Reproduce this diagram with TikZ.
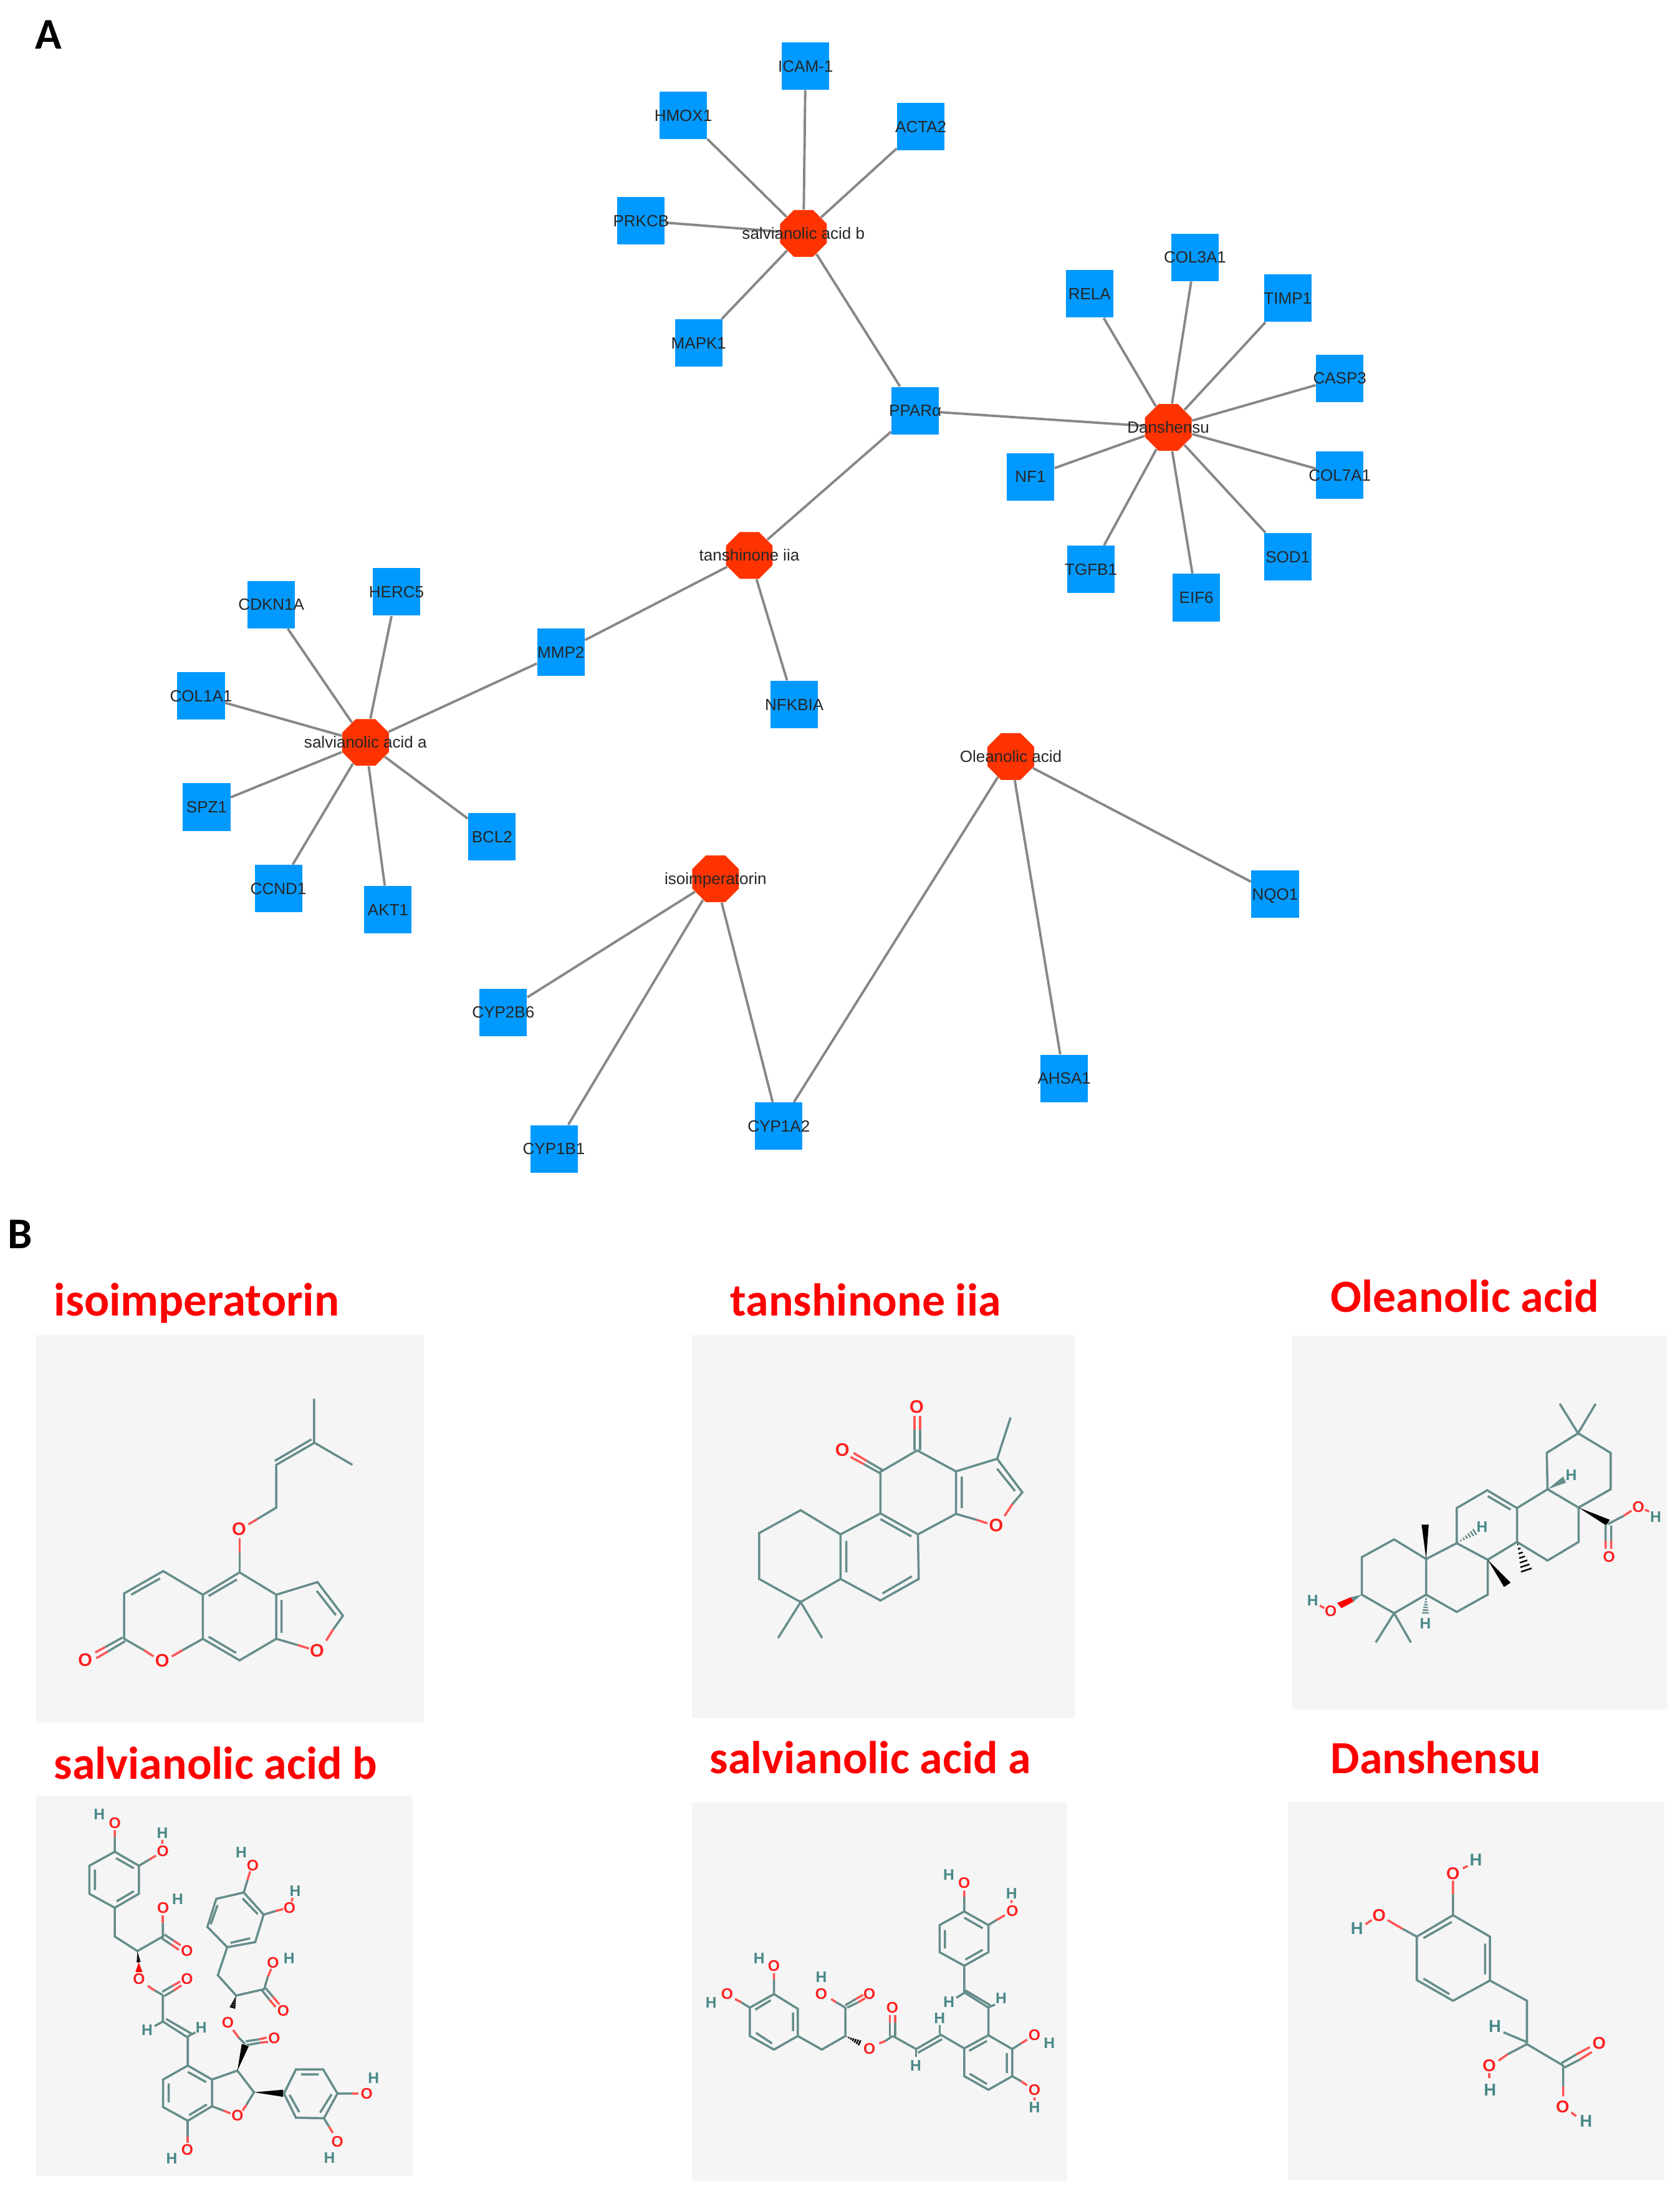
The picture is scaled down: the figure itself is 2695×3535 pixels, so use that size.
\documentclass[tikz,border=0pt]{standalone}
\usepackage{fontspec}
\usetikzlibrary{shapes.geometric,backgrounds}
\setmainfont{Liberation Sans}
\newfontfamily\titlefont{Carlito}
\newfontfamily\molfont{Liberation Sans}
\definecolor{gene}{HTML}{0099FF}
\definecolor{drug}{HTML}{FF3300}
\definecolor{edgegray}{HTML}{878787}
\definecolor{panel}{HTML}{F5F5F5}
\definecolor{bondc}{HTML}{658D8B}
\definecolor{hatom}{HTML}{4A8888}
\definecolor{oxy}{HTML}{FF2020}
\definecolor{oxyb}{HTML}{FF5555}
\newcommand\netfont{\fontsize{7.4}{8}\selectfont}
\newcommand\molfs{\fontsize{8}{9}\selectfont}
\newcounter{atm}
\newcommand\OA[1]{\stepcounter{atm}\node[oatom] (atom\theatm) at (#1) {O};}
\newcommand\HA[1]{\stepcounter{atm}\node[hatom] (atom\theatm) at (#1) {H};}
\newcommand\hashw[6]{\foreach \t in {0.08,0.22,0.36,0.5,0.64,0.78,0.92}{%
  \pgfmathsetmacro\mx{#2+\t*(#4-#2)}\pgfmathsetmacro\my{#3+\t*(#5-#3)}%
  \pgfmathsetmacro\nx{-(#5-#3)/veclen(#4-#2,#5-#3)*#6*\t}%
  \pgfmathsetmacro\ny{(#4-#2)/veclen(#4-#2,#5-#3)*#6*\t}%
  \draw[#1,line width=.7pt] (\mx+\nx,\my+\ny)--(\mx-\nx,\my-\ny);}}
\tikzset{
  genebox/.style={rectangle,fill=gene,minimum size=.76cm,inner sep=0pt,text=black!85,font=\netfont,text height=5.2pt,text depth=0pt},
  drugoct/.style={regular polygon,regular polygon sides=8,fill=drug,minimum size=.81cm,inner sep=0pt,text=black!85,font=\netfont,text height=5.2pt,text depth=0pt},
  link/.style={draw=edgegray,line width=1.1pt},
  bond/.style={draw=bondc,line width=1pt},
  rbond/.style={draw=oxyb,line width=1pt},
  oatom/.style={text=oxy,font=\molfont\bfseries\molfs,inner sep=0pt},
  hatom/.style={text=hatom,font=\molfont\bfseries\molfs,inner sep=0pt},
  paneltitle/.style={text=red,font=\titlefont\bfseries\fontsize{21}{25}\selectfont,anchor=base west,inner sep=0pt},
  letter/.style={text=black,font=\titlefont\bfseries\fontsize{20}{24}\selectfont,anchor=base west,inner sep=0pt},
  panelbox/.style={fill=panel},
}
\newcommand\gn[3]{\node[genebox] (#1) at (#2) {\makebox[0pt]{#3}};}
\newcommand\dr[3]{\node[drugoct] (#1) at (#2) {\makebox[0pt]{#3}};}
\begin{document}
\begin{tikzpicture}[x=0.01cm,y=-0.01cm]
\useasboundingbox (0,0) rectangle (2695,3535);
\begin{scope}[on background layer]
\fill[white] (0,0) rectangle (2695,3535);
\end{scope}
\node[letter] (letterA) at (56,78) {A};
\node[letter] (letterB) at (12,2002) {B};
% ---------- network
\begin{scope}[scale=2.2552]
\dr{salb}{571.5,166}{salvianolic acid b}
\dr{dans}{831,304}{Danshensu}
\dr{tan}{533,395}{tanshinone iia}
\dr{sala}{260,528}{salvianolic acid a}
\dr{ole}{719,538}{Oleanolic acid}
\dr{iso}{509,625}{isoimperatorin}
\gn{icam}{573,47}{ICAM-1}
\gn{hmox}{486,82}{HMOX1}
\gn{acta}{655,90}{ACTA2}
\gn{prkcb}{456,157}{PRKCB}
\gn{mapk}{497,244}{MAPK1}
\gn{ppar}{651,292}{PPARα}
\gn{col3}{850,183}{COL3A1}
\gn{rela}{775,209}{RELA}
\gn{timp}{916,212}{TIMP1}
\gn{casp}{953,269}{CASP3}
\gn{col7}{953,338}{COL7A1}
\gn{nf}{733,339}{NF1}
\gn{sod}{916,396}{SOD1}
\gn{tgfb}{776,405}{TGFB1}
\gn{eif}{851,425}{EIF6}
\gn{mmp}{399,464}{MMP2}
\gn{nfk}{565,501}{NFKBIA}
\gn{herc}{282,421}{HERC5}
\gn{cdkn}{193,430}{CDKN1A}
\gn{col1}{143,495}{COL1A1}
\gn{spz}{147,574}{SPZ1}
\gn{bcl}{350,595}{BCL2}
\gn{ccnd}{198,632}{CCND1}
\gn{akt}{276,647}{AKT1}
\gn{nqo}{907,636}{NQO1}
\gn{ahsa}{757,767}{AHSA1}
\gn{cyp2b}{358,720}{CYP2B6}
\gn{cyp1a}{554,801}{CYP1A2}
\gn{cyp1b}{394,817}{CYP1B1}
\end{scope}
\begin{scope}[on background layer]
\foreach \a/\b in {salb/icam,salb/hmox,salb/acta,salb/prkcb,salb/mapk,salb/ppar,
  dans/ppar,dans/col3,dans/rela,dans/timp,dans/casp,dans/col7,dans/nf,dans/sod,dans/tgfb,dans/eif,
  tan/ppar,tan/mmp,tan/nfk,
  sala/mmp,sala/herc,sala/cdkn,sala/col1,sala/spz,sala/bcl,sala/ccnd,sala/akt,
  ole/nqo,ole/ahsa,ole/cyp1a,
  iso/cyp2b,iso/cyp1a,iso/cyp1b}
  {\draw[link] (\a) -- (\b);}
\end{scope}
% ---------- panels
\fill[panelbox] (58,2141) rectangle (680,2764);
\fill[panelbox] (1110,2141) rectangle (1724,2756);
\fill[panelbox] (2073,2142) rectangle (2675,2742);
\fill[panelbox] (58,2880) rectangle (662,3490);
\fill[panelbox] (1110,2891) rectangle (1712,3498);
\fill[panelbox] (2066,2890) rectangle (2670,3497);
\node[paneltitle,font=\titlefont\bfseries\fontsize{21.3}{25}\selectfont] (t1) at (86,2110) {isoimperatorin};
\node[paneltitle] (t2) at (1171,2110) {tanshinone iia};
\node[paneltitle] (t3) at (2134,2104) {Oleanolic acid};
\node[paneltitle] (t4) at (86,2853) {salvianolic acid b};
\node[paneltitle] (t5) at (1138,2844) {salvianolic acid a};
\node[paneltitle] (t6) at (2134,2844) {Danshensu};
% ---------- isoimperatorin
\begin{scope}[shift={(40,2120)},scale=.4209]
\renewcommand\molfs{\fontsize{8.3}{9}\selectfont}
\draw[bond] (1102,293)--(1102,460)--(1248,545);
\draw[bond] (1102,462)--(958,545)--(958,708)--(885,752);
\draw[bond] (1092,448)--(952,530);
\draw[rbond] (885,752)--(852,772);
\draw[bond] (818,878)--(818,955);
\draw[rbond] (818,825)--(818,878);
\draw[bond] (818,955)--(958,1040)--(958,1208)--(818,1290)--(678,1208)--(678,1040)--cycle;
\draw[bond] (808,982)--(700,1045) (978,1060)--(978,1185) (805,1262)--(700,1200);
\draw[bond] (678,1040)--(527,950)--(378,1035)--(378,1208)--(455,1252);
\draw[bond] (515,978)--(405,1040);
\draw[rbond] (455,1252)--(490,1275);
\draw[bond] (678,1208)--(600,1252);
\draw[rbond] (600,1252)--(560,1275);
\draw[bond] (372,1203)--(305,1240) (382,1217)--(315,1257);
\draw[rbond] (305,1240)--(268,1260) (315,1257)--(272,1282);
\draw[bond] (958,1040)--(1115,992)--(1212,1120)--(1175,1172);
\draw[rbond] (1175,1172)--(1148,1215);
\draw[bond] (958,1208)--(1040,1232) (1112,1025)--(1185,1118);
\draw[rbond] (1040,1232)--(1083,1245);
\OA{816,790}\OA{523,1292}\OA{230,1288}\OA{1113,1252}
\end{scope}
% ---------- tanshinone iia
\begin{scope}[shift={(1100,2120)},scale=.4209]
\renewcommand\molfs{\fontsize{8.3}{9}\selectfont}
\draw[bond] (1238,365)--(1187,522)--(1030,570)--(1030,732)--(885,810)--(742,730)--(742,572)--(882,490)--(1030,570);
\draw[bond] (872,490)--(872,410) (893,490)--(893,410);
\draw[rbond] (872,410)--(872,358) (893,410)--(893,358);
\draw[bond] (742,578)--(680,543) (750,565)--(690,530);
\draw[rbond] (680,543)--(628,515) (690,530)--(640,500);
\draw[bond] (1187,522)--(1283,650)--(1245,695) (1187,560)--(1255,645);
\draw[rbond] (1245,695)--(1215,740);
\draw[bond] (1030,732)--(1110,755) (1052,590)--(1052,710);
\draw[rbond] (1110,755)--(1150,768);
\draw[bond] (742,730)--(590,810)--(590,980)--(742,1062)--(888,980)--(885,810);
\draw[bond] (742,752)--(860,818) (612,835)--(612,955) (750,1035)--(862,970);
\draw[bond] (590,810)--(438,718)--(280,805)--(280,980)--(438,1068)--(590,980);
\draw[bond] (352,1205)--(438,1068)--(520,1205);
\OA{880,325}\OA{597,487}\OA{1183,775}
\end{scope}
% ---------- oleanolic acid
\begin{scope}[shift={(2060,2120)},scale=.4082]
\renewcommand\molfs{\fontsize{7}{8}\selectfont}
\draw[bond] (1083,322)--(1155,438)--(1224,322);
\draw[bond] (1155,438)--(1283,515)--(1283,658)--(1157,730)--(1035,658)--(1032,515)--cycle;
\draw[bond] (1035,658)--(915,732)--(915,865)--(1035,938)--(1157,865)--(1157,730);
\draw[bond] (915,732)--(798,662)--(678,732)--(678,870)--(800,935)--(915,865) (890,738)--(800,685);
\draw[bond] (678,870)--(558,932)--(558,1072)--(678,1140)--(800,1072)--(800,935);
\draw[bond] (558,932)--(432,855)--(305,925)--(305,1072)--(432,1145)--(558,1072);
\draw[bond] (360,1260)--(432,1145)--(498,1260);
\fill[black] (558,932)--(540,797)--(568,797)--cycle;
\fill[black] (800,935)--(864,1042)--(890,1025)--cycle;
\fill[black] (1157,730)--(1265,800)--(1280,778)--cycle;
\fill[bondc] (1035,658)--(1096,608)--(1108,632)--cycle;
\hashw{black}{915}{865}{955}{985}{24}
\hashw{bondc}{678}{870}{755}{822}{14}
\hashw{bondc}{558}{1072}{555}{1150}{14}
\draw[bond] (1272,795)--(1335,762) (1263,800)--(1263,860) (1285,800)--(1285,860);
\draw[rbond] (1335,762)--(1365,742) (1263,860)--(1263,892) (1285,860)--(1285,892);
\draw[rbond] (1418,738)--(1434,746) (140,1115)--(158,1125);
\fill[bondc] (305,1072)--(262,1082)--(272,1100)--cycle;
\fill[red] (262,1082)--(208,1105)--(225,1125)--(272,1100)--cycle;
\OA{1392,727}\HA{1460,767}\OA{1277,923}\OA{183,1137}\HA{112,1095}
\HA{778,805}\HA{555,1185}\HA{1128,603}
\end{scope}
% ---------- salvianolic acid b
\begin{scope}[shift={(40,2870)},scale=.4082]
\renewcommand\molfs{\fontsize{7}{8}\selectfont}
\draw[bond] (353,245)--(448,300)--(448,410)--(353,465)--(253,410)--(253,300)--cycle;
\draw[bond] (358,270)--(428,310) (428,400)--(360,440) (275,315)--(275,395);
\draw[bond] (353,245)--(353,185) (448,300)--(490,275);
\draw[rbond] (353,185)--(353,160) (490,275)--(515,260) (540,198)--(540,214) (1052,426)--(1048,440);
\draw[bond] (353,465)--(353,578)--(442,635)--(542,578)--(542,525);
\draw[rbond] (542,525)--(542,495);
\draw[bond] (548,570)--(585,595) (538,585)--(575,610);
\draw[rbond] (585,595)--(612,612) (575,610)--(605,630);
\hashw{black}{442}{635}{447}{680}{8}
\hashw{red}{447}{680}{448}{718}{14}
\draw[rbond] (483,772)--(510,790);
\draw[bond] (510,790)--(542,808) (540,795)--(580,772) (548,812)--(585,790);
\draw[rbond] (580,772)--(610,755) (585,790)--(615,770);
\draw[bond] (542,808)--(542,912)--(640,975)--(640,1085) (555,902)--(655,960);
\draw[bond] (510,930)--(542,912) (640,970)--(670,955);
\draw[bond] (640,1085)--(735,1140)--(735,1245)--(640,1302)--(543,1248)--(543,1140)--cycle;
\draw[bond] (640,1110)--(712,1150) (565,1155)--(565,1230) (645,1280)--(715,1238);
\draw[bond] (640,1302)--(640,1365);
\draw[rbond] (640,1365)--(640,1390);
\draw[bond] (735,1140)--(835,1105)--(900,1190)--(870,1240) (735,1245)--(780,1262);
\draw[rbond] (870,1240)--(855,1262) (780,1262)--(808,1273);
\fill[black] (835,1105)--(852,1000)--(880,1008)--cycle;
\draw[bond] (868,990)--(920,982) (870,1005)--(925,995) (865,1000)--(840,975);
\draw[rbond] (920,982)--(950,975) (925,995)--(955,992) (840,975)--(818,945);
\hashw{black}{830}{810}{815}{860}{12}
\draw[bond] (830,810)--(940,785)--(955,735) (830,810)--(758,730)--(795,620);
\draw[rbond] (955,735)--(968,705);
\draw[bond] (945,780)--(975,815) (932,790)--(960,825);
\draw[rbond] (975,815)--(1000,845) (960,825)--(985,855);
\draw[bond] (795,620)--(905,600)--(938,492)--(860,405)--(752,430)--(717,540)--cycle;
\draw[bond] (808,603)--(885,585) (915,490)--(855,428) (757,455)--(730,530);
\draw[bond] (860,405)--(875,355) (938,492)--(985,478);
\draw[rbond] (875,355)--(885,322) (985,478)--(1015,470);
\fill[black] (900,1190)--(1015,1180)--(1015,1208)--cycle;
\draw[bond] (1018,1195)--(1065,1100)--(1172,1100)--(1228,1195)--(1175,1292)--(1065,1290)--cycle;
\draw[bond] (1085,1120)--(1155,1120) (1205,1198)--(1160,1270) (1040,1200)--(1078,1268);
\draw[bond] (1228,1195)--(1285,1195) (1175,1292)--(1195,1325);
\draw[rbond] (1285,1195)--(1310,1195) (1195,1325)--(1210,1350);
\OA{353,133}\HA{292,97}\OA{542,243}\HA{540,172}\OA{543,465}\HA{600,430}
\OA{637,635}\OA{448,745}\OA{637,745}\HA{480,945}\HA{693,937}
\OA{638,1415}\HA{577,1450}\OA{835,1282}\OA{980,978}\OA{797,915}
\OA{975,680}\HA{1038,665}\OA{1015,870}\OA{895,298}\HA{850,248}
\OA{1040,465}\HA{1062,400}\OA{1343,1195}\HA{1370,1133}\OA{1228,1385}\HA{1197,1447}
\end{scope}
% ---------- salvianolic acid a
\begin{scope}[shift={(1100,2880)},scale=.3954]
\renewcommand\molfs{\fontsize{7}{8}\selectfont}
\draw[bond] (1130,470)--(1228,525)--(1228,635)--(1130,690)--(1030,635)--(1030,525)--cycle;
\draw[bond] (1130,495)--(1205,538) (1205,625)--(1135,665) (1052,545)--(1052,620);
\draw[bond] (1130,470)--(1130,410) (1228,525)--(1260,505);
\draw[rbond] (1130,410)--(1130,385) (1260,505)--(1295,485) (1322,424)--(1322,436) (1415,1224)--(1415,1236);
\draw[bond] (1130,690)--(1130,798)--(1228,860)--(1228,972) (1135,790)--(1235,850);
\draw[bond] (1098,820)--(1130,800) (1228,858)--(1255,848);
\draw[bond] (1228,972)--(1325,1028)--(1325,1138)--(1228,1193)--(1130,1138)--(1130,1025)--cycle;
\draw[bond] (1222,995)--(1150,1035) (1303,1045)--(1303,1125) (1222,1170)--(1152,1128);
\draw[bond] (1325,1028)--(1360,1005) (1325,1138)--(1360,1158);
\draw[rbond] (1360,1005)--(1385,990) (1360,1158)--(1385,1175);
\draw[bond] (1130,1025)--(1035,970)--(935,1028)--(840,975) (1040,988)--(942,1043);
\draw[bond] (1030,930)--(1030,965) (935,1030)--(935,1060);
\draw[bond] (828,975)--(828,920) (850,975)--(850,920);
\draw[rbond] (828,920)--(828,890) (850,920)--(850,890);
\draw[bond] (840,975)--(810,995);
\draw[rbond] (810,995)--(785,1005);
\hashw{black}{648}{975}{710}{1005}{12}
\draw[bond] (648,975)--(552,1030)--(455,975) (648,975)--(648,860);
\draw[bond] (648,850)--(690,825) (655,860)--(700,838) (648,860)--(610,838);
\draw[rbond] (690,825)--(720,808) (700,838)--(728,822) (610,838)--(590,825);
\draw[bond] (455,975)--(455,865)--(358,805)--(260,860)--(260,975)--(358,1030)--cycle;
\draw[bond] (435,880)--(435,955) (345,830)--(282,868) (285,962)--(350,1005);
\draw[bond] (358,805)--(358,745) (260,860)--(225,838);
\draw[rbond] (358,745)--(358,720) (225,838)--(200,825);
\OA{1130,355}\HA{1067,320}\OA{1325,467}\HA{1322,397}\HA{1068,838}\HA{1280,823}
\OA{1415,972}\HA{1475,1003}\OA{1415,1193}\HA{1415,1265}\HA{1030,903}\HA{933,1095}
\OA{838,860}\OA{745,1028}\OA{745,805}\OA{550,803}\HA{550,737}
\OA{358,690}\HA{298,660}\OA{168,805}\HA{103,840}
\end{scope}
% ---------- danshensu
\begin{scope}[shift={(2060,2880)},scale=.3954]
\renewcommand\molfs{\fontsize{7.8}{9}\selectfont}
\draw[bond] (685,485)--(835,572)--(835,750)--(685,832)--(538,748)--(538,572)--cycle;
\draw[bond] (680,512)--(565,578) (815,600)--(815,725) (670,805)--(565,742);
\draw[bond] (685,485)--(685,400) (538,572)--(480,540);
\draw[rbond] (685,400)--(685,345) (480,540)--(420,505) (725,295)--(745,285) (330,522)--(355,505);
\draw[bond] (835,750)--(985,832)--(985,1008)--(905,1050) (985,1000)--(890,960);
\draw[rbond] (905,1050)--(870,1075) (832,1125)--(832,1145);
\draw[bond] (985,1008)--(1132,1095)--(1132,1180) (1125,1085)--(1185,1050) (1137,1103)--(1200,1070);
\draw[rbond] (1185,1050)--(1240,1020) (1200,1070)--(1248,1040) (1132,1180)--(1132,1220) (1165,1285)--(1185,1300);
\OA{685,315}\HA{778,260}\OA{385,485}\HA{295,540}\HA{855,935}\OA{832,1095}\HA{835,1195}
\OA{1278,1005}\OA{1130,1262}\HA{1225,1320}
\end{scope}
\end{tikzpicture}
\end{document}
